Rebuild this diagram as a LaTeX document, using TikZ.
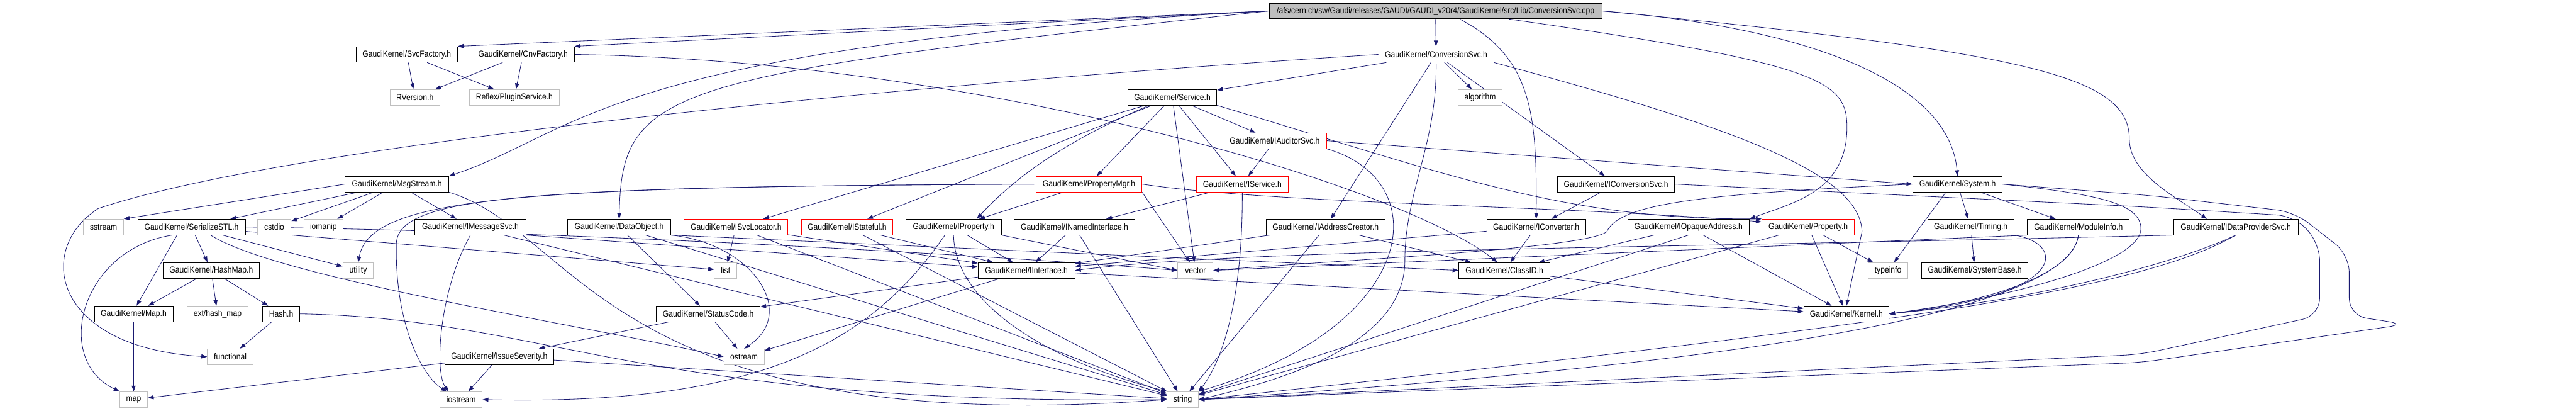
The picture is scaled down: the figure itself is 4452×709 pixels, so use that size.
\documentclass[tikz,border=0pt]{standalone}
\usepackage{fontspec}
\newfontfamily\gfont{Liberation Sans}[FakeStretch=0.88]
\usetikzlibrary{arrows.meta, backgrounds}
\definecolor{edgeblue}{HTML}{191970}
\definecolor{stdgray}{HTML}{BFBFBF}

\begin{document}
\begin{tikzpicture}[
    x=1pt, y=-1pt,
    font=\gfont\fontsize{15}{18}\selectfont,
    hdr/.style={rectangle, draw=black, fill=white, line width=1pt, minimum height=27pt, inner sep=0pt},
    stdhdr/.style={hdr, draw=stdgray},
    redhdr/.style={hdr, draw=red},
    roothdr/.style={hdr, fill=stdgray},
    dep/.style={-{Triangle[length=10pt, width=7pt]}, draw=edgeblue, line width=0.9pt}
  ]
    \useasboundingbox (0,0) rectangle (4452,709);

    \node[roothdr, minimum width=575pt] (root) at (2481,19) {/afs/cern.ch/sw/Gaudi/releases/GAUDI/GAUDI\_v20r4/GaudiKernel/src/Lib/ConversionSvc.cpp};
    \node[hdr, minimum width=175pt] (svcfac) at (703,94) {GaudiKernel/SvcFactory.h};
    \node[hdr, minimum width=177pt] (cnvfac) at (904,94) {GaudiKernel/CnvFactory.h};
    \node[hdr, minimum width=199pt] (convh) at (2482,94) {GaudiKernel/ConversionSvc.h};
    \node[stdhdr, minimum width=86pt] (rversion) at (717,168) {RVersion.h};
    \node[stdhdr, minimum width=156pt] (plugin) at (889,168) {Reflex/PluginService.h};
    \node[hdr, minimum width=154pt] (service) at (2026,168) {GaudiKernel/Service.h};
    \node[stdhdr, minimum width=76pt] (algo) at (2558,168) {algorithm};
    \node[redhdr, minimum width=179pt] (auditor) at (2203,243) {GaudiKernel/IAuditorSvc.h};
    \node[hdr, minimum width=179pt] (msgstream) at (686,318) {GaudiKernel/MsgStream.h};
    \node[redhdr, minimum width=183pt] (propmgr) at (1882,318) {GaudiKernel/PropertyMgr.h};
    \node[redhdr, minimum width=159pt] (iservice) at (2147,318) {GaudiKernel/IService.h};
    \node[hdr, minimum width=202pt] (iconvsvc) at (2793,318) {GaudiKernel/IConversionSvc.h};
    \node[hdr, minimum width=155pt] (system) at (3383,318) {GaudiKernel/System.h};
    \node[stdhdr, minimum width=69pt] (sstream) at (179,392) {sstream};
    \node[hdr, minimum width=186pt] (serial) at (331,392) {GaudiKernel/SerializeSTL.h};
    \node[stdhdr, minimum width=58pt] (cstdio) at (474,392) {cstdio};
    \node[stdhdr, minimum width=68pt] (iomanip) at (559,392) {iomanip};
    \node[hdr, minimum width=192pt] (imsgsvc) at (813,392) {GaudiKernel/IMessageSvc.h};
    \node[hdr, minimum width=178pt] (dataobj) at (1070,392) {GaudiKernel/DataObject.h};
    \node[redhdr, minimum width=179pt] (isvcloc) at (1272,392) {GaudiKernel/ISvcLocator.h};
    \node[redhdr, minimum width=158pt] (istateful) at (1464,392) {GaudiKernel/IStateful.h};
    \node[hdr, minimum width=165pt] (iprop) at (1648,392) {GaudiKernel/IProperty.h};
    \node[hdr, minimum width=209pt] (inamed) at (1857,392) {GaudiKernel/INamedInterface.h};
    \node[hdr, minimum width=206pt] (iaddr) at (2291,392) {GaudiKernel/IAddressCreator.h};
    \node[hdr, minimum width=171pt] (iconv) at (2655,392) {GaudiKernel/IConverter.h};
    \node[hdr, minimum width=210pt] (iopaque) at (2918,392) {GaudiKernel/IOpaqueAddress.h};
    \node[redhdr, minimum width=160pt] (prop) at (3125,392) {GaudiKernel/Property.h};
    \node[hdr, minimum width=149pt] (timing) at (3406,392) {GaudiKernel/Timing.h};
    \node[hdr, minimum width=176pt] (modinfo) at (3592,392) {GaudiKernel/ModuleInfo.h};
    \node[hdr, minimum width=215pt] (idataprov) at (3864,392) {GaudiKernel/IDataProviderSvc.h};
    \node[hdr, minimum width=166pt] (hashmap) at (365,467) {GaudiKernel/HashMap.h};
    \node[stdhdr, minimum width=53pt] (utility) at (619,467) {utility};
    \node[stdhdr, minimum width=39pt] (list) at (1254,467) {list};
    \node[hdr, minimum width=167pt] (iinterface) at (1774,467) {GaudiKernel/IInterface.h};
    \node[stdhdr, minimum width=61pt] (vector) at (2066,467) {vector};
    \node[hdr, minimum width=158pt] (classid) at (2600,467) {GaudiKernel/ClassID.h};
    \node[stdhdr, minimum width=69pt] (typeinfo) at (3263,467) {typeinfo};
    \node[hdr, minimum width=184pt] (sysbase) at (3413,467) {GaudiKernel/SystemBase.h};
    \node[hdr, minimum width=136pt] (maph) at (231,542) {GaudiKernel/Map.h};
    \node[stdhdr, minimum width=106pt] (hashext) at (376,542) {ext/hash\_map};
    \node[hdr, minimum width=64pt] (hash) at (486,542) {Hash.h};
    \node[hdr, minimum width=179pt] (statuscode) at (1224,542) {GaudiKernel/StatusCode.h};
    \node[hdr, minimum width=147pt] (kernel) at (3191,542) {GaudiKernel/Kernel.h};
    \node[stdhdr, minimum width=79pt] (functional) at (398,616) {functional};
    \node[stdhdr, minimum width=70pt] (ostream) at (1286,616) {ostream};
    \node[hdr, minimum width=188pt] (issue) at (863,616) {GaudiKernel/IssueSeverity.h};
    \node[stdhdr, minimum width=48pt] (map) at (231,690) {map};
    \node[stdhdr, minimum width=73pt] (iostream) at (797,690) {iostream};
    \node[stdhdr, minimum width=54pt] (string) at (2044,690) {string};

    \begin{scope}[on background layer]
    \draw[dep] (root.west) -- (svcfac.north east);
    \draw[dep] (root.west) -- (cnvfac.north east);
    \draw[dep] (root.west) .. controls (1040,80) and (1000,230) .. (msgstream.north east);
    \draw[dep] (root.west) .. controls (1150,130) and (1075,150) .. (dataobj.north);
    \draw[dep] (root) -- (convh);
    \draw[dep] ([xshift=42pt]root.south) .. controls (2650,100) and (2656,200) .. (iconv.north);
    \draw[dep] ([xshift=127pt]root.south) .. controls (3150,110) and (3192,140) .. (3192,220) .. controls (3192,330) and (3100,350) .. (iopaque.north east);
    \draw[dep] (root.east) .. controls (3150,50) and (3370,150) .. (system.north);
    \draw[dep] (root.east) .. controls (3500,90) and (3680,130) .. (3680,240) .. controls (3680,300) and (3760,340) .. ([xshift=-50pt]idataprov.north);

    \draw[dep] (svcfac) -- (rversion);
    \draw[dep] (svcfac) -- (plugin);
    \draw[dep] (cnvfac) -- (rversion);
    \draw[dep] (cnvfac) -- (plugin);
    \draw[dep] (cnvfac.east) .. controls (1700,105) and (2420,320) .. ([xshift=-12pt]classid.north);

    \draw[dep] (convh) -- (algo);
    \draw[dep] (convh) -- (service);
    \draw[dep] (convh) -- (iconvsvc);
    \draw[dep] (convh) -- (iaddr);
    \draw[dep] (convh.west) .. controls (1500,150) and (500,250) .. (170,360) .. controls (60,430) and (90,600) .. (functional.west);
    \draw[dep] (convh.south) .. controls (2484,250) and (2428,330) .. (2428,450) .. controls (2428,600) and (2200,660) .. (string.east);
    \draw[dep] (convh.south east) .. controls (3000,220) and (3215,300) .. (3218,400) -- (kernel.north);

    \draw[dep] (service) -- (propmgr);
    \draw[dep] (service) -- (iservice);
    \draw[dep] (service) -- (auditor);
    \draw[dep] (service) -- (isvcloc);
    \draw[dep] (service) -- (istateful);
    \draw[dep] ([xshift=-40pt]service.south) .. controls (1850,240) and (1760,300) .. ([xshift=40pt]iprop.north);
    \draw[dep] (service) -- (vector);
    \draw[dep] (service.south east) .. controls (2500,300) and (2700,380) .. (prop.north west);

    \draw[dep] (auditor) -- (iservice);
    \draw[dep] (auditor.east) -- (system.west);
    \draw[dep] (auditor.south east) .. controls (2480,310) and (2460,560) .. (string.north east);

    \draw[dep] (msgstream.west) -- (sstream.north east);
    \draw[dep] (msgstream) -- (serial);
    \draw[dep] (msgstream) -- (cstdio);
    \draw[dep] (msgstream) -- (iomanip);
    \draw[dep] (msgstream) -- (imsgsvc);
    \draw[dep] (msgstream.south east) .. controls (1000,400) and (1050,760) .. (string.west);

    \draw[dep] (propmgr) -- (iprop);
    \draw[dep] (propmgr.south east) -- (vector);
    \draw[dep] (propmgr.east) .. controls (2200,352) and (2700,355) .. ([yshift=-5pt]prop.north west);
    \draw[dep] (propmgr.west) .. controls (900,322) and (640,340) .. (utility.north);
    \draw[dep] (propmgr.west) .. controls (900,322) and (690,340) .. (685,420) .. controls (682,560) and (730,650) .. ([xshift=12pt]iostream.north west);

    \draw[dep] (iservice) -- (inamed);
    \draw[dep] (iservice.south) .. controls (2148,550) and (2100,640) .. (string.north east);

    \draw[dep] (iconvsvc) -- (iconv);
    \draw[dep, rounded corners=30pt] (iconvsvc.east) -- (3700,357) -- (3965,373) -- (4009,420) -- (4009,545) -- (3700,612) -- (string.east);

    \draw[dep] ([xshift=-20pt]system.south) -- (typeinfo);
    \draw[dep] (system) -- (timing);
    \draw[dep] (system) -- (modinfo);
    \draw[dep] (system.east) .. controls (3620,335) and (3700,350) .. (3700,395) .. controls (3700,450) and (3500,510) .. (kernel.east);
    \draw[dep] (system.west) .. controls (2950,335) and (2800,350) .. (2777,400) .. controls (2740,430) and (2300,450) .. (vector.east);
    \draw[dep, rounded corners=30pt] (system.east) -- (3720,338) -- (3965,366) -- (4060,440) -- (4060,545) -- (4158,560) -- (3700,626) -- (string.east);

    \draw[dep] ([xshift=-33pt]serial.south) .. controls (140,430) and (90,620) .. (map.north west);
    \draw[dep] ([xshift=-25pt]serial.south) -- ([xshift=5pt]maph.north);
    \draw[dep] (serial) -- (hashmap);
    \draw[dep] (serial) -- (utility);
    \draw[dep] ([xshift=33pt]serial.south) .. controls (480,480) and (1000,560) .. (ostream.west);
    \draw[dep] (serial) -- (list);
    \draw[dep] (serial.east) .. controls (1000,400) and (1700,440) .. (vector.west);

    \draw[dep] (imsgsvc.south) .. controls (760,500) and (750,640) .. ([xshift=15pt]iostream.north west);
    \draw[dep] (imsgsvc) -- (string);
    \draw[dep] (imsgsvc.south east) -- (iinterface);

    \draw[dep] (dataobj) -- (statuscode);
    \draw[dep] (dataobj.south east) -- (classid.west);
    \draw[dep] (dataobj.south east) .. controls (1300,420) and (1380,540) .. (ostream.north);
    \draw[dep] (dataobj) -- (string);

    \draw[dep] (isvcloc) -- (list);
    \draw[dep] (isvcloc) -- (iinterface);
    \draw[dep] (isvcloc) -- (string);
    \draw[dep] (istateful) -- (iinterface);
    \draw[dep] (istateful) -- (string);

    \draw[dep] (iprop) -- (iinterface);
    \draw[dep] (iprop.south) .. controls (1650,520) and (1800,620) .. (string.north west);
    \draw[dep] ([xshift=-15pt]iprop.south) .. controls (1500,600) and (1300,700) .. (iostream.east);
    \draw[dep] (iprop.south east) -- (vector.west);

    \draw[dep] (inamed) -- (iinterface);
    \draw[dep] (inamed) -- (string);
    \draw[dep] (iaddr) -- (iinterface);
    \draw[dep] (iaddr) -- (classid);
    \draw[dep] (iaddr) -- (string);
    \draw[dep] (iconv) -- (classid);
    \draw[dep] (iconv) -- (iinterface);
    \draw[dep] (iopaque) -- (classid);
    \draw[dep] (iopaque) -- (kernel);
    \draw[dep] (iopaque.south) -- (string);
    \draw[dep] (prop) -- (kernel);
    \draw[dep] (prop) -- (typeinfo);
    \draw[dep] (prop) -- (string);

    \draw[dep] (timing) -- (sysbase);
    \draw[dep] (timing.south east) .. controls (3570,420) and (3580,510) .. (kernel.east);
    \draw[dep] (modinfo.south) .. controls (3585,470) and (3450,520) .. (kernel.east);
    \draw[dep] (modinfo.south) .. controls (3580,500) and (3300,610) .. (string.east);
    \draw[dep] (modinfo.south west) -- (vector.east);
    \draw[dep] (idataprov.south west) .. controls (2800,430) and (2150,430) .. (iinterface.east);
    \draw[dep] (idataprov.south) .. controls (3750,460) and (3500,520) .. (kernel.east);
    \draw[dep] (idataprov.south) .. controls (3700,500) and (3300,560) .. (string.east);

    \draw[dep] (hashmap) -- (maph);
    \draw[dep] (hashmap) -- (hashext);
    \draw[dep] (hashmap) -- (hash);
    \draw[dep] (maph) -- (map);
    \draw[dep] (hash) -- (functional);
    \draw[dep] (hash.east) .. controls (950,550) and (1100,700) .. (string.west);

    \draw[dep] (iinterface) -- (statuscode);
    \draw[dep] (iinterface) -- (ostream);
    \draw[dep] (iinterface) -- (kernel);
    \draw[dep] (classid) -- (kernel);
    \draw[dep] (statuscode) -- (issue);
    \draw[dep] (statuscode) -- (ostream);
    \draw[dep] (issue) -- (map);
    \draw[dep] (issue) -- (iostream);
    \draw[dep] (issue) -- (string);
    \end{scope}
  \end{tikzpicture}
\end{document}
